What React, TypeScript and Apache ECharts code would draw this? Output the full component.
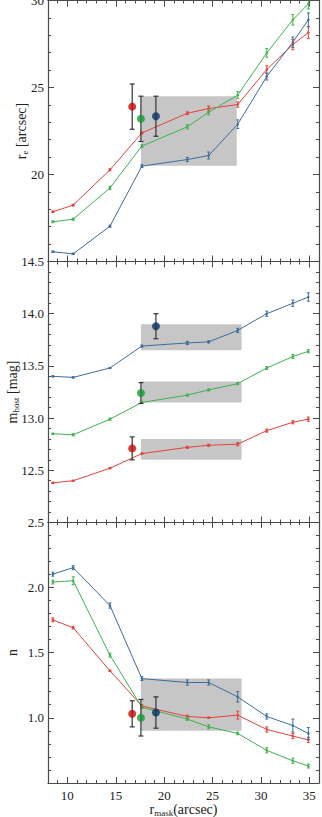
import React, { useEffect, useRef } from "react";
import * as echarts from "echarts";

// x positions (r_mask, arcsec)
const X = [8.5, 10.6, 14.4, 17.7, 22.4, 24.6, 27.6, 30.6, 33.3, 34.9];
const X_MAJOR = [10, 15, 20, 25, 30, 35];

// Panel 1: r_e [arcsec]
const RE_RED = [17.86, 18.24, 20.27, 22.39, 23.52, 23.79, 24.02, 26.03, 27.47, 28.16];
const RE_GREEN = [17.28, 17.43, 19.23, 21.63, 22.74, 23.58, 24.56, 26.99, 28.89, 29.81];
const RE_BLUE = [15.56, 15.44, 17.03, 20.48, 20.86, 21.09, 22.89, 25.63, 27.6, 28.89];
const RE_RED_ERR = [0.04, 0.05, 0.06, 0.06, 0.08, 0.15, 0.15, 0.22, 0.3, 0.35];
const RE_GREEN_ERR = [0.05, 0.06, 0.1, 0.08, 0.12, 0.15, 0.2, 0.25, 0.3, 0.3];
const RE_BLUE_ERR = [0.04, 0.04, 0.06, 0.08, 0.12, 0.2, 0.25, 0.2, 0.3, 0.4];

// Panel 2: m_host [mag]
const MH_BLUE = [13.4, 13.39, 13.48, 13.69, 13.72, 13.73, 13.84, 14.0, 14.1, 14.16];
const MH_GREEN = [12.85, 12.84, 12.99, 13.15, 13.22, 13.27, 13.33, 13.48, 13.59, 13.64];
const MH_RED = [12.38, 12.4, 12.52, 12.66, 12.72, 12.74, 12.75, 12.88, 12.96, 12.99];
const MH_BLUE_ERR = [0.005, 0.005, 0.005, 0.01, 0.015, 0.01, 0.02, 0.025, 0.03, 0.04];
const MH_GREEN_ERR = [0.005, 0.01, 0.01, 0.01, 0.01, 0.01, 0.01, 0.015, 0.02, 0.015];
const MH_RED_ERR = [0.005, 0.005, 0.005, 0.005, 0.01, 0.01, 0.015, 0.015, 0.015, 0.02];

// Panel 3: n
const N_BLUE = [2.1, 2.15, 1.86, 1.3, 1.27, 1.27, 1.16, 1.01, 0.94, 0.88];
const N_GREEN = [2.04, 2.05, 1.48, 1.08, 0.99, 0.93, 0.88, 0.75, 0.67, 0.63];
const N_RED = [1.75, 1.69, 1.36, 1.09, 1.01, 1.0, 1.02, 0.91, 0.86, 0.83];
const N_BLUE_ERR = [0.015, 0.015, 0.02, 0.015, 0.02, 0.02, 0.04, 0.02, 0.05, 0.045];
const N_GREEN_ERR = [0.015, 0.03, 0.015, 0.01, 0.01, 0.015, 0.01, 0.02, 0.02, 0.015];
const N_RED_ERR = [0.015, 0.01, 0.005, 0.01, 0.01, 0.005, 0.03, 0.02, 0.02, 0.02];

// Big points (red, green, blue)
const X_DOT = [16.7, 17.6, 19.15];
const RE_DOT = [23.9, 23.2, 23.35];
const RE_DOT_ERR = [1.3, 1.3, 1.15];
const MH_DOT = [12.71, 13.24, 13.88];
const MH_DOT_ERR = [0.11, 0.1, 0.12];
const N_DOT = [1.03, 1.0, 1.04];
const N_DOT_ERR = [0.1, 0.14, 0.12];

// Shaded boxes [x0, x1, y0, y1]
const RE_BOXES = [[17.6, 27.5, 20.5, 24.5]];
const MH_BOXES = [
  [17.6, 28.0, 13.65, 13.9],
  [17.6, 28.0, 13.15, 13.35],
  [17.6, 28.0, 12.6, 12.8],
];
const N_BOXES = [[17.6, 28.0, 0.9, 1.3]];

const C_RED = "#e2433c";
const C_GREEN = "#3fb24f";
const C_BLUE = "#3e6c9c";
const D_RED = "#c80a0a";
const D_GREEN = "#159a35";
const D_BLUE = "#0a3563";
const FRAME = "#4a4a4a";
const SERIF = "Liberation Serif";

const RICH = {
  n: { fontFamily: SERIF, fontSize: 14, color: "#222", lineHeight: 15 },
  s: { fontFamily: SERIF, fontSize: 9, color: "#222", lineHeight: 10, verticalAlign: "bottom" },
};

export default function App() {
  const ref = useRef<HTMLDivElement>(null);

  useEffect(() => {
    if (!ref.current) return;
    const chart = echarts.init(ref.current, undefined, { renderer: "svg" });

    const grids = [
      { left: 48, right: 3, top: 0.5, height: 261, outerBoundsMode: "none", containLabel: false },
      { left: 48, right: 3, top: 261.5, height: 261, outerBoundsMode: "none", containLabel: false },
      { left: 48, right: 3, top: 522, height: 261, outerBoundsMode: "none", containLabel: false },
    ];

    const xAxes: any[] = [];
    grids.forEach((_, g) => {
      const isBottom = g === 2;
      const base = { type: "value", gridIndex: g, min: 8, max: 36, splitLine: { show: false } };
      xAxes.push({
        ...base,
        position: "bottom",
        axisLine: { show: true, onZero: false, lineStyle: { color: FRAME, width: 1.2 } },
        axisTick: { show: true, inside: true, length: 6, customValues: X_MAJOR, lineStyle: { color: FRAME } },
        axisLabel: {
          show: isBottom,
          customValues: X_MAJOR,
          margin: 6,
          fontFamily: SERIF,
          fontSize: 13,
          color: "#222",
        },
        name: isBottom ? "{n|r}{s|mask}{n|(arcsec)}" : "",
        nameLocation: "middle",
        nameGap: 19,
        nameMoveOverlap: false,
        nameTextStyle: { rich: RICH },
      });
      xAxes.push({
        ...base,
        position: "bottom",
        interval: 1,
        axisLine: { show: false },
        axisTick: { show: true, inside: true, length: 3, lineStyle: { color: FRAME } },
        axisLabel: { show: false },
      });
      xAxes.push({
        ...base,
        position: "top",
        axisLine: { show: true, onZero: false, lineStyle: { color: FRAME, width: 1.2 } },
        axisTick: { show: true, inside: true, length: 6, customValues: X_MAJOR, lineStyle: { color: FRAME } },
        axisLabel: { show: false },
      });
      xAxes.push({
        ...base,
        position: "top",
        interval: 1,
        axisLine: { show: false },
        axisTick: { show: true, inside: true, length: 3, lineStyle: { color: FRAME } },
        axisLabel: { show: false },
      });
    });

    const yDefs = [
      { min: 15, max: 30, interval: 5, fmt: (v: number) => (v === 15 ? "" : String(v)), name: "{n|r}{s|e}{n| [arcsec]}", gap: 19 },
      { min: 12, max: 14.5, interval: 0.5, fmt: (v: number) => (Math.abs(v - 12) < 1e-6 ? "" : v.toFixed(1)), name: "{n|m}{s|host}{n| [mag]}", gap: 28 },
      { min: 0.5, max: 2.5, interval: 0.5, fmt: (v: number) => (Math.abs(v - 0.5) < 1e-6 ? "" : v.toFixed(1)), name: "{n|n}", gap: 28 },
    ];

    const yAxes: any[] = [];
    yDefs.forEach((d, g) => {
      const base = {
        type: "value",
        gridIndex: g,
        min: d.min,
        max: d.max,
        interval: d.interval,
        splitLine: { show: false },
        axisLine: { show: true, onZero: false, lineStyle: { color: FRAME, width: 1.2 } },
        axisTick: { show: true, inside: true, length: 6, lineStyle: { color: FRAME } },
        minorTick: { show: true, splitNumber: 5, length: 3, lineStyle: { color: FRAME } },
      };
      yAxes.push({
        ...base,
        position: "left",
        axisLabel: {
          show: true,
          margin: 4,
          formatter: d.fmt,
          fontFamily: SERIF,
          fontSize: 13,
          color: "#222",
        },
        name: d.name,
        nameLocation: "middle",
        nameGap: d.gap,
        nameRotate: 90,
        nameMoveOverlap: false,
        nameTextStyle: { rich: RICH },
      });
      yAxes.push({
        ...base,
        position: "right",
        axisLabel: { show: false },
      });
    });

    const series: any[] = [];

    const boxSeries = (boxes: number[][], g: number) => ({
      type: "custom",
      xAxisIndex: g * 4,
      yAxisIndex: g * 2,
      z: 1,
      silent: true,
      data: boxes,
      renderItem: (_p: any, api: any) => {
        const a = api.coord([api.value(0), api.value(3)]);
        const b = api.coord([api.value(1), api.value(2)]);
        return {
          type: "rect",
          shape: { x: a[0], y: a[1], width: b[0] - a[0], height: b[1] - a[1] },
          style: { fill: "#c6c6c6" },
        };
      },
    });

    const lineSeries = (ys: number[], color: string, g: number) => ({
      type: "line",
      xAxisIndex: g * 4,
      yAxisIndex: g * 2,
      z: 3,
      data: X.map((x, i) => [x, ys[i]]),
      symbol: "circle",
      symbolSize: 2.5,
      itemStyle: { color },
      lineStyle: { color, width: 1 },
    });

    const errSeries = (xs: number[], ys: number[], es: number[], color: string, g: number, cap: number, w: number, z: number) => ({
      type: "custom",
      xAxisIndex: g * 4,
      yAxisIndex: g * 2,
      z,
      silent: true,
      data: xs.map((x, i) => [x, ys[i], es[i]]),
      renderItem: (_p: any, api: any) => {
        const x = api.value(0);
        const y = api.value(1);
        const e = api.value(2);
        const hi = api.coord([x, y + e]);
        const lo = api.coord([x, y - e]);
        const st = { stroke: color, lineWidth: w };
        return {
          type: "group",
          children: [
            { type: "line", shape: { x1: hi[0], y1: hi[1], x2: lo[0], y2: lo[1] }, style: st },
            { type: "line", shape: { x1: hi[0] - cap, y1: hi[1], x2: hi[0] + cap, y2: hi[1] }, style: st },
            { type: "line", shape: { x1: lo[0] - cap, y1: lo[1], x2: lo[0] + cap, y2: lo[1] }, style: st },
          ],
        };
      },
    });

    const dotSeries = (ys: number[], g: number) => ({
      type: "scatter",
      xAxisIndex: g * 4,
      yAxisIndex: g * 2,
      z: 6,
      symbolSize: 8,
      data: X_DOT.map((x, i) => ({
        value: [x, ys[i]],
        itemStyle: { color: [D_RED, D_GREEN, D_BLUE][i] },
      })),
    });

    const panels = [
      { boxes: RE_BOXES, lines: [[RE_RED, RE_RED_ERR, C_RED], [RE_GREEN, RE_GREEN_ERR, C_GREEN], [RE_BLUE, RE_BLUE_ERR, C_BLUE]], dot: RE_DOT, dotErr: RE_DOT_ERR },
      { boxes: MH_BOXES, lines: [[MH_RED, MH_RED_ERR, C_RED], [MH_GREEN, MH_GREEN_ERR, C_GREEN], [MH_BLUE, MH_BLUE_ERR, C_BLUE]], dot: MH_DOT, dotErr: MH_DOT_ERR },
      { boxes: N_BOXES, lines: [[N_RED, N_RED_ERR, C_RED], [N_GREEN, N_GREEN_ERR, C_GREEN], [N_BLUE, N_BLUE_ERR, C_BLUE]], dot: N_DOT, dotErr: N_DOT_ERR },
    ];

    panels.forEach((p, g) => {
      series.push(boxSeries(p.boxes, g));
      p.lines.forEach((l: any) => {
        series.push(lineSeries(l[0], l[2], g));
        series.push(errSeries(X, l[0], l[1], l[2], g, 1.5, 1, 4));
      });
      series.push(errSeries(X_DOT, p.dot, p.dotErr, "#333333", g, 2.5, 1.2, 5));
      series.push(dotSeries(p.dot, g));
    });

    chart.setOption({
      animation: false,
      backgroundColor: "#ffffff",
      grid: grids,
      xAxis: xAxes,
      yAxis: yAxes,
      series,
    });

    return () => chart.dispose();
  }, []);

  return (
    <div
      ref={ref}
      style={{ position: "fixed", left: 0, top: 0, width: 322, height: 817, background: "#fff" }}
    />
  );
}
